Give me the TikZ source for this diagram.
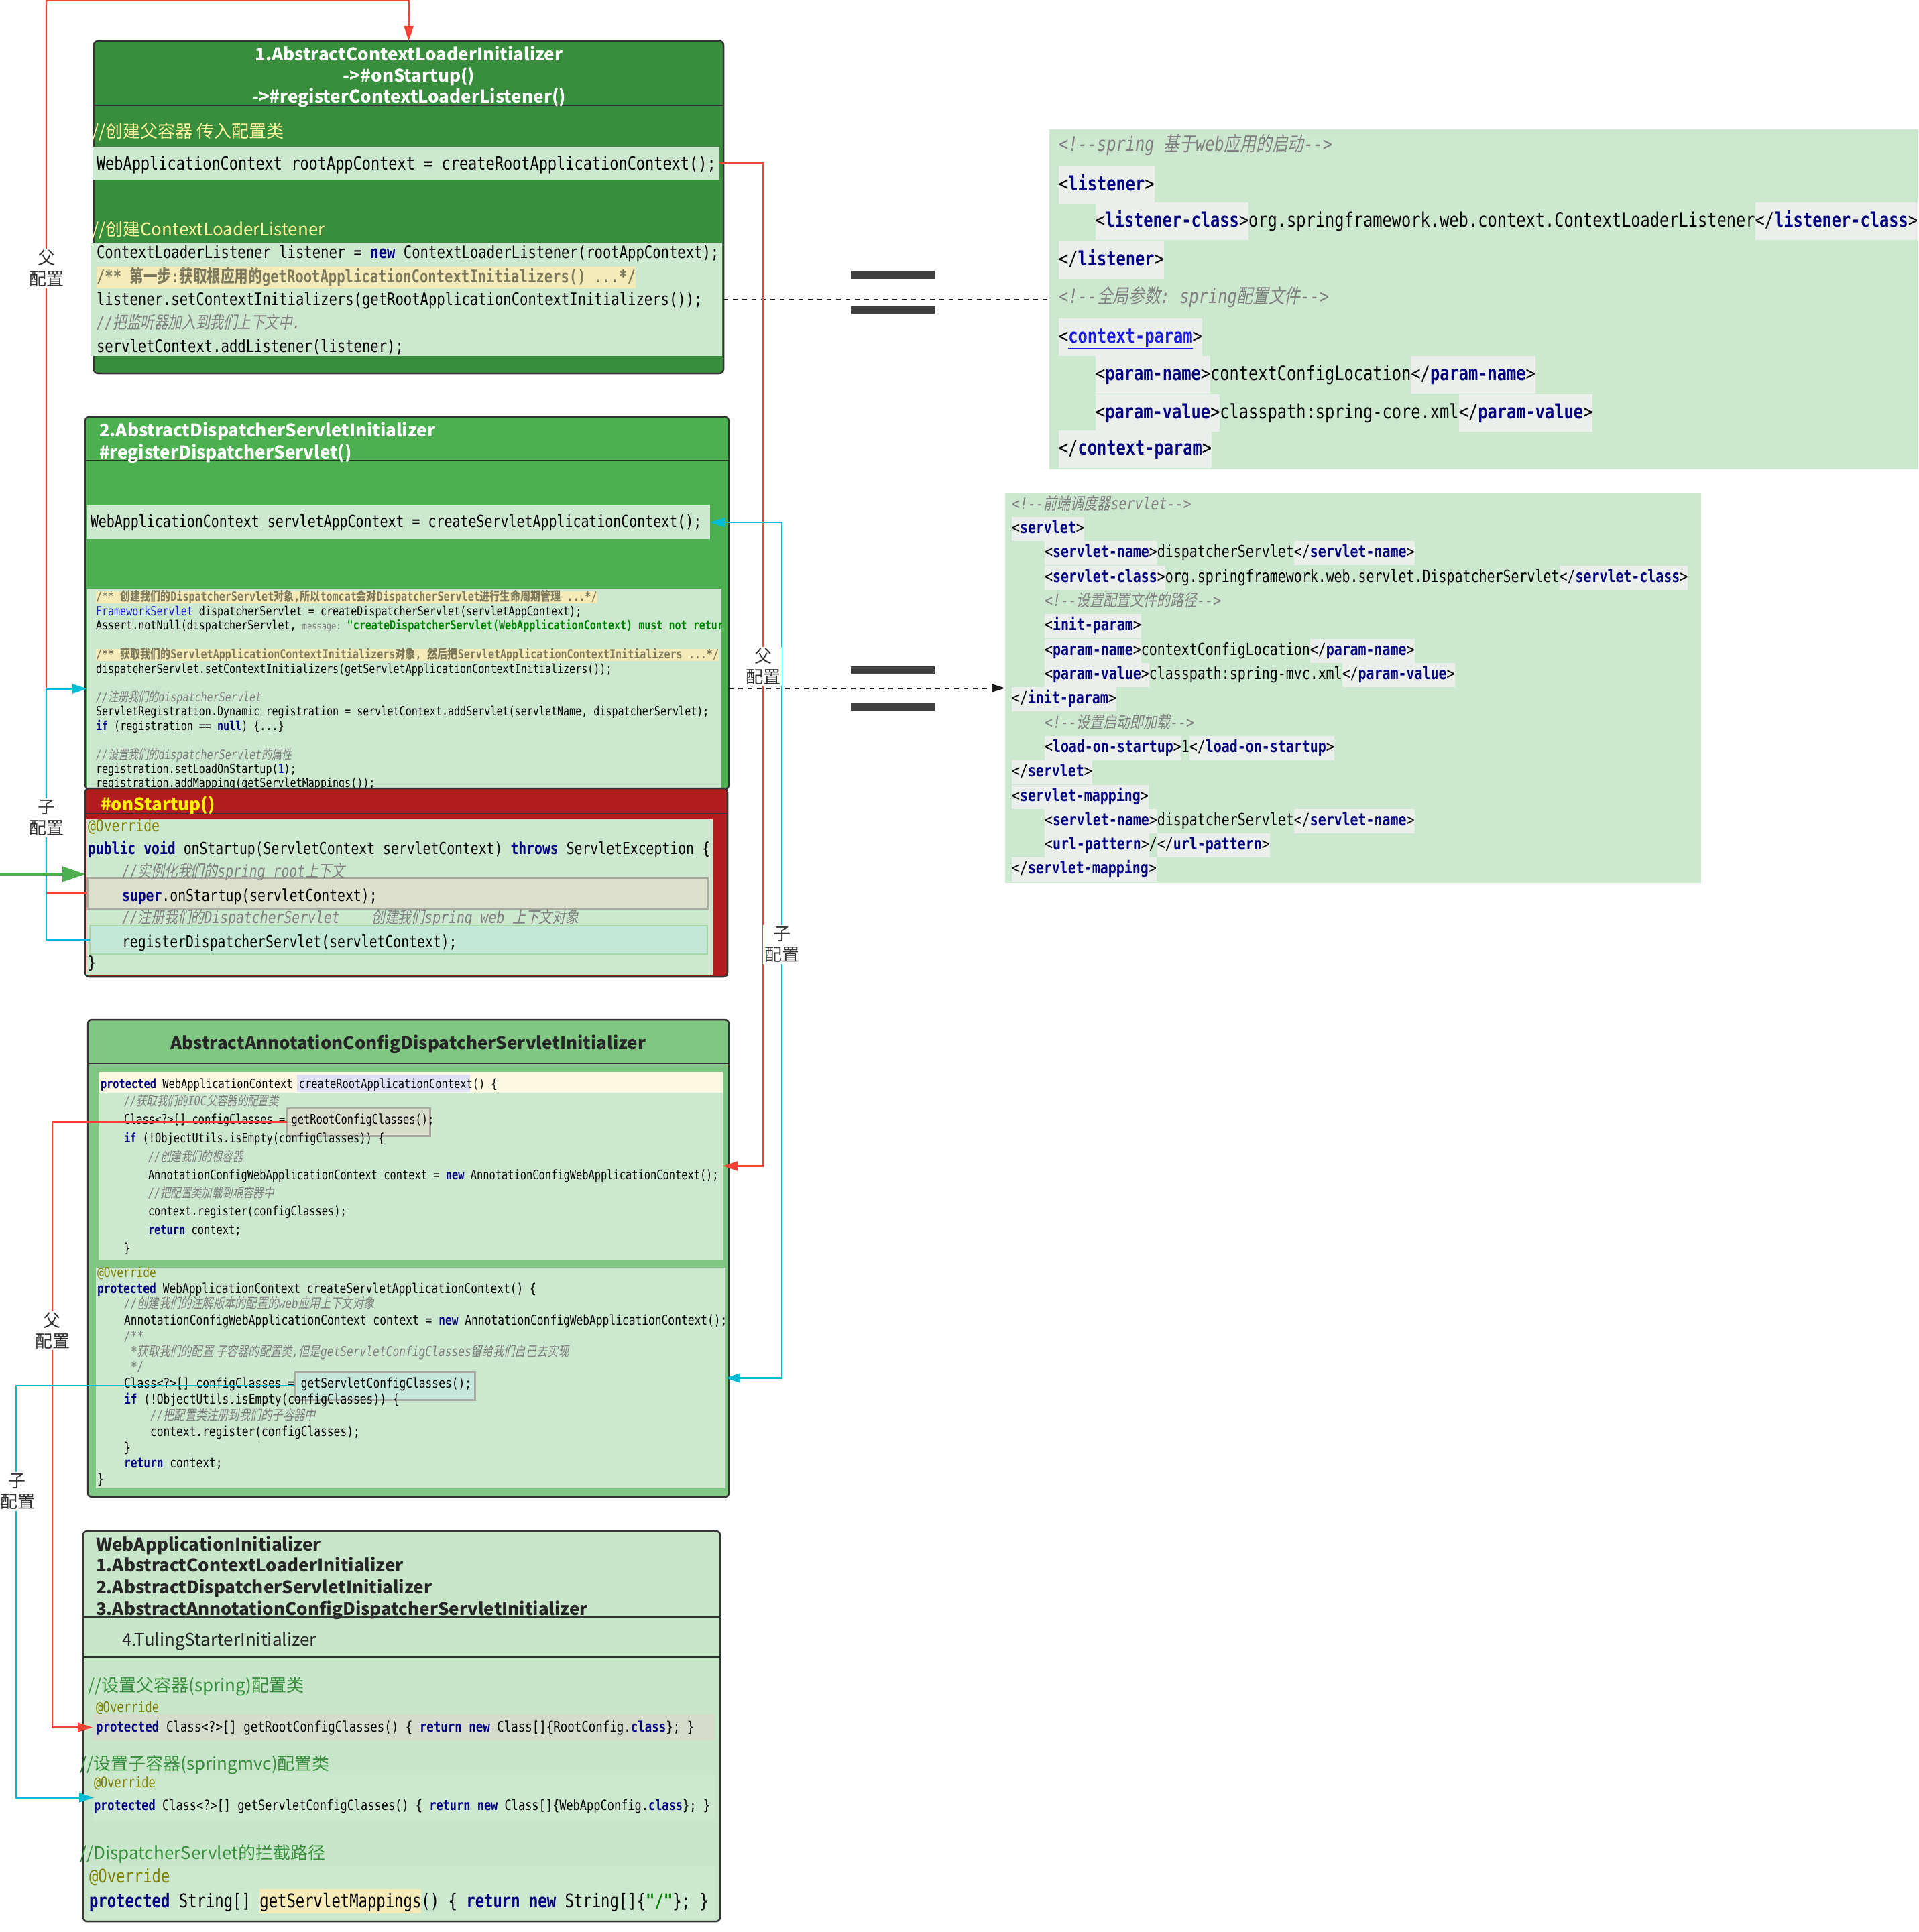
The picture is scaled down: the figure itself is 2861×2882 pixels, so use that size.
\documentclass[tikz,border=0pt]{standalone}
\usepackage{fontspec}
\usepackage{graphicx}
\setmonofont{DejaVu Sans Mono}[FakeStretch=0.8]
\newfontfamily\ys{Noto Sans CJK SC}
\newfontfamily\cjkm{Noto Sans CJK SC}[FakeStretch=0.8]
\newfontfamily\cjkmi{Noto Sans CJK SC}[FakeStretch=0.8,FakeSlant=0.2]
\usetikzlibrary{arrows.meta,fit}
\definecolor{codebg}{HTML}{CCE8CF}
\definecolor{dkgreen}{HTML}{388E3C}
\definecolor{mdgreen}{HTML}{4CAF50}
\definecolor{ltgreen}{HTML}{81C784}
\definecolor{palegreen}{HTML}{C8E6C9}
\definecolor{redbox}{HTML}{B21C1C}
\definecolor{boxline}{HTML}{333333}
\definecolor{kw}{HTML}{000080}
\definecolor{cmt}{HTML}{808080}
\definecolor{ann}{HTML}{808000}
\definecolor{strc}{HTML}{008000}
\definecolor{hly}{HTML}{F5EBB9}
\definecolor{hlc}{HTML}{7D7A5E}
\definecolor{tagbg}{HTML}{EBEFEB}
\definecolor{link}{HTML}{1A1AE6}
\definecolor{redl}{HTML}{F44336}
\definecolor{cyanl}{HTML}{00BCD4}
\definecolor{paley}{HTML}{FFF59D}
\definecolor{cmtgreen}{HTML}{388E3C}
\definecolor{eqc}{HTML}{404040}
\definecolor{lblc}{HTML}{333333}
\definecolor{superbg}{HTML}{DCDFCC}
\definecolor{superln}{HTML}{A9AAA0}
\definecolor{regbg}{HTML}{C3E8D8}
\definecolor{regln}{HTML}{A5D6A7}
\definecolor{cfgbg}{HTML}{D8DCCB}
\definecolor{scfgbg}{HTML}{C5E6DA}
\definecolor{lavender}{HTML}{E0E0F5}
\definecolor{paleyel}{HTML}{FCF9E3}
\definecolor{rowfour}{HTML}{D6DCCC}
\newcommand\fsz[1]{\fontsize{#1}{#1}\selectfont}
\newcommand\kw[1]{{\color{kw}\bfseries #1}}
\newcommand\cm[1]{{\color{cmt}\itshape #1}}
\newcommand\zh[1]{{\cjkm #1}}
\newcommand\zhi[1]{{\cjkmi #1}}
\newcommand\an[1]{{\color{ann}#1}}
\newcommand\stc[1]{{\color{strc}\bfseries #1}}
\newcommand\hcm[1]{{\color{hlc}\bfseries #1}}
\newcommand\tn[1]{{\color{kw}\bfseries #1}}
\newcommand\ta[1]{{\setlength\fboxsep{0pt}\colorbox{tagbg}{\rule[-0.66em]{0pt}{1.9em}#1}}}
\newcommand\tb[1]{{\setlength\fboxsep{0pt}\colorbox{tagbg}{\rule[-0.45em]{0pt}{1.45em}#1}}}
\tikzset{
  lm/.style={anchor=west, inner sep=0pt, outer sep=0pt, font=\ttfamily\fsz{#1}, text height=0.78*#1, text depth=0.22*#1},
  ls/.style={anchor=west, inner sep=0pt, outer sep=0pt, font=\ys\fsz{#1}, text height=0.85*#1, text depth=0.15*#1},
  lb/.style={ls=#1, font=\ys\bfseries\fsz{#1}},
  area/.style={inner sep=0pt, outer sep=0pt, draw=none},
  panel/.style={area, draw=boxline, line width=2.5pt, rounded corners=6pt},
  sepl/.style={draw=boxline, line width=2pt},
  redc/.style={draw=redl, line width=2.2pt},
  cyanc/.style={draw=cyanl, line width=2.2pt},
  tipc/.style={arrows={-Triangle[length=22pt,width=14pt]}},
  tipb/.style={arrows={Triangle[length=22pt,width=14pt]-Triangle[length=22pt,width=14pt]}},
  lbl/.style={fill=white, align=center, inner sep=2pt, text=lblc, font=\ys\fontsize{26}{31}\selectfont},
  dsh/.style={draw=black!90, line width=2pt, dash pattern=on 7pt off 7pt},
}
\begin{document}
\begin{tikzpicture}[x=1pt,y=-1pt]
\useasboundingbox (0,0) rectangle (2861,2882);
% ================= box 1
\node[panel, fill=dkgreen, fit={(140,61)(1079,557)}] (box1) {};
\draw[sepl] (140,157) -- (1079,157);
\node[lb=26, anchor=center, text=white] (t1a) at (610,81) {1.AbstractContextLoaderInitializer};
\node[lb=26, anchor=center, text=white] (t1b) at (610,113) {->\#onStartup()};
\node[lb=26, anchor=center, text=white] (t1c) at (610,144) {->\#registerContextLoaderListener()};
\node[ls=26, text=paley] (c1a) at (137,196) {//创建父容器 传入配置类};
\node[area, fill=codebg, fit={(138,219)(1073,268)}] (rootrow) {};
\node[lm=27.4] (l1a) at (144,246) {WebApplicationContext rootAppContext = createRootApplicationContext();};
\node[ls=26, text=paley] (c1b) at (137,342) {//创建ContextLoaderListener};
\node[area, fill=codebg, fit={(135,362)(1077,531)}] (lisblock) {};
\node[lm=25.7] (l1b) at (144,378) {ContextLoaderListener listener = \kw{new} ContextLoaderListener(rootAppContext);};
\node[lm=25.7, fill=hly, inner ysep=3pt] (l1c) at (144,414) {\hcm{/** \zh{第一步}:\zh{获取根应用的}getRootApplicationContextInitializers() ...*/}};
\node[lm=25.7] (setinit) at (144,448) {listener.setContextInitializers(getRootApplicationContextInitializers());};
\node[lm=25.7] (l1e) at (144,483) {\cm{//\zhi{把监听器加入到我们上下文中}.}};
\node[lm=25.7] (l1f) at (144,518) {servletContext.addListener(listener);};
% ================= box 2
\node[panel, fill=mdgreen, fit={(127,622)(1087,1177)}] (box2) {};
\draw[sepl] (127,687) -- (1087,687);
\node[lb=26, text=white] (t2a) at (148,642) {2.AbstractDispatcherServletInitializer};
\node[lb=26, text=white] (t2b) at (148,675) {\#registerDispatcherServlet()};
\node[area, fill=codebg, fit={(130,754)(1059,804)}] (servletrow) {};
\node[lm=24.9] (l2a) at (135,780) {WebApplicationContext servletAppContext = createServletApplicationContext();};
\node[area, fill=codebg, fit={(130,878)(1076,1177)}] (disblock) {};
\begin{scope}
\clip (130,878) rectangle (1076,1177);
\node[lm=18.8, fill=hly] (d1) at (143,891) {\hcm{/** \zh{创建我们的}DispatcherServlet\zh{对象},\zh{所以}tomcat\zh{会对}DispatcherServlet\zh{进行生命周期管理} ...*/}};
\node[lm=18.8] (d2) at (143,913) {{\color{link}\underline{FrameworkServlet}} dispatcherServlet = createDispatcherServlet(servletAppContext);};
\node[lm=18.8] (d3) at (143,934) {Assert.notNull(dispatcherServlet, {\color{cmt}\fsz{15}message:} \stc{"createDispatcherServlet(WebApplicationContext) must not return null"});};
\node[lm=18.8, fill=hly] (d4) at (143,977) {\hcm{/** \zh{获取我们的}ServletApplicationContextInitializers\zh{对象}, \zh{然后把}ServletApplicationContextInitializers ...*/}};
\node[lm=18.8] (d5) at (143,999) {dispatcherServlet.setContextInitializers(getServletApplicationContextInitializers());};
\node[lm=18.8] (d6) at (143,1041) {\cm{//\zhi{注册我们的}dispatcherServlet}};
\node[lm=18.8] (d7) at (143,1062) {ServletRegistration.Dynamic registration = servletContext.addServlet(servletName, dispatcherServlet);};
\node[lm=18.8] (d8) at (143,1084) {\kw{if} (registration == \kw{null}) \{...\}};
\node[lm=18.8] (d9) at (143,1127) {\cm{//\zhi{设置我们的}dispatcherServlet\zhi{的属性}}};
\node[lm=18.8] (d10) at (143,1148) {registration.setLoadOnStartup({\color{blue!80!black}1});};
\node[lm=18.8] (d11) at (143,1169) {registration.addMapping(getServletMappings());};
\end{scope}
% ================= red onStartup box
\node[panel, fill=redbox, fit={(127,1176)(1085,1457)}] (red) {};
\draw[sepl] (127,1214) -- (1085,1214);
\node[lb=26, text=yellow] (t3) at (150,1200) {\#onStartup()};
\node[area, fill=codebg, fit={(129,1221)(1063,1454)}] (startblock) {};
\node[lm=24.7] (s1) at (131,1234) {\an{@Override}};
\node[lm=24.7] (s2) at (131,1268) {\kw{public} \kw{void} onStartup(ServletContext servletContext) \kw{throws} ServletException \{};
\node[area, fill=superbg, draw=superln, line width=3pt, fit={(130,1309)(1055,1355)}] (superrow) {};
\node[lm=24.7] (s3) at (182,1302) {\cm{//\zhi{实例化我们的}spring root\zhi{上下文}}};
\node[lm=24.7] (s4) at (182,1338) {\kw{super}.onStartup(servletContext);};
\node[lm=24.7] (s5) at (182,1371) {\cm{//\zhi{注册我们的}DispatcherServlet\ \ \ \ \zhi{创建我们}spring web \zhi{上下文对象}}};
\node[area, fill=regbg, draw=regln, line width=2pt, fit={(134,1381)(1055,1423)}] (regrow) {};
\node[lm=24.7] (s6) at (182,1407) {registerDispatcherServlet(servletContext);};
\node[lm=24.7] (s7) at (131,1438) {\}};
% ================= box 3
\node[panel, fill=ltgreen, fit={(131,1521)(1087,2233)}] (box3) {};
\draw[sepl] (131,1586) -- (1087,1586);
\node[lb=26, anchor=center, text=black!85] (t4) at (609,1556) {AbstractAnnotationConfigDispatcherServletInitializer};
\node[area, fill=codebg, fit={(148,1599)(1078,1880)}] (rootcode) {};
\fill[paleyel] (148,1599) rectangle (1078,1630);
\fill[lavender] (443,1603) rectangle (701,1629);
\node[area, fill=cfgbg, draw=superln, line width=3pt, fit={(428,1653)(641,1694)}] (rootcfg) {};
\node[lm=19.2] (a1) at (150,1618) {\kw{protected} WebApplicationContext createRootApplicationContext() \{};
\node[lm=19.2] (a2) at (185,1644) {\cm{//\zhi{获取我们的}IOC\zhi{父容器的配置类}}};
\node[lm=19.2] (a3) at (185,1671) {Class<?>[] configClasses = getRootConfigClasses();};
\node[lm=19.2] (a4) at (185,1699) {\kw{if} (!ObjectUtils.isEmpty(configClasses)) \{};
\node[lm=19.2] (a5) at (221,1727) {\cm{//\zhi{创建我们的根容器}}};
\node[lm=19.2] (a6) at (221,1754) {AnnotationConfigWebApplicationContext context = \kw{new} AnnotationConfigWebApplicationContext();};
\node[lm=19.2] (a7) at (221,1781) {\cm{//\zhi{把配置类加载到根容器中}}};
\node[lm=19.2] (a8) at (221,1808) {context.register(configClasses);};
\node[lm=19.2] (a9) at (221,1836) {\kw{return} context;};
\node[lm=19.2] (a10) at (185,1863) {\}};
\node[area, fill=codebg, fit={(143,1891)(1082,2220)}] (servletcode) {};
\node[area, fill=scfgbg, draw=superln, line width=3pt, fit={(440,2046)(708,2088)}] (servletcfg) {};
\node[lm=20.3] (b1) at (145,1900) {\an{@Override}};
\node[lm=20.3] (b2) at (145,1924) {\kw{protected} WebApplicationContext createServletApplicationContext() \{};
\node[lm=20.3] (b3) at (185,1946) {\cm{//\zhi{创建我们的注解版本的配置的}web\zhi{应用上下文对象}}};
\node[lm=20.3] (b4) at (185,1971) {AnnotationConfigWebApplicationContext context = \kw{new} AnnotationConfigWebApplicationContext();};
\node[lm=20.3] (b5) at (185,1995) {\cm{/**}};
\node[lm=20.3] (b6) at (195,2018) {\cm{*\zhi{获取我们的配置 子容器的配置类},\zhi{但是}getServletConfigClasses\zhi{留给我们自己去实现}}};
\node[lm=20.3] (b7) at (195,2040) {\cm{*/}};
\node[lm=20.3] (b8) at (185,2065) {Class<?>[] configClasses = getServletConfigClasses();};
\node[lm=20.3] (b9) at (185,2089) {\kw{if} (!ObjectUtils.isEmpty(configClasses)) \{};
\node[lm=20.3] (b10) at (224,2113) {\cm{//\zhi{把配置类注册到我们的子容器中}}};
\node[lm=20.3] (b11) at (224,2137) {context.register(configClasses);};
\node[lm=20.3] (b12) at (185,2161) {\}};
\node[lm=20.3] (b13) at (185,2184) {\kw{return} context;};
\node[lm=20.3] (b14) at (145,2208) {\}};
% ================= box 4
\node[panel, fill=palegreen, fit={(124,2284)(1074,2866)}] (box4) {};
\node[lb=26, text=black!85] (w1) at (143,2304) {WebApplicationInitializer};
\node[lb=26, text=black!85] (w2) at (143,2335) {1.AbstractContextLoaderInitializer};
\node[lb=26, text=black!85] (w3) at (143,2368) {2.AbstractDispatcherServletInitializer};
\node[lb=26, text=black!85] (w4) at (143,2400) {3.AbstractAnnotationConfigDispatcherServletInitializer};
\draw[sepl] (124,2412) -- (1074,2412);
\node[ls=26, text=black!85] (w5) at (182,2446) {4.TulingStarterInitializer};
\draw[sepl] (124,2472) -- (1074,2472);
\node[ls=26, text=cmtgreen] (c5a) at (131,2514) {//设置父容器(spring)配置类};
\node[lm=21.8] (o5a) at (143,2548) {\an{@Override}};
\node[area, fill=rowfour, fit={(138,2557)(1066,2596)}] (rootcfg4) {};
\node[lm=21.8] (r5a) at (143,2577) {\kw{protected} Class<?>[] getRootConfigClasses() \{ \kw{return} \kw{new} Class[]\{RootConfig.\kw{class}\}; \}};
\node[ls=26, text=cmtgreen] (c5b) at (119,2631) {//设置子容器(springmvc)配置类};
\node[area, fill=codebg, fit={(140,2647)(1066,2716)}] (servletcfg4) {};
\node[lm=21.2] (o5b) at (140,2661) {\an{@Override}};
\node[lm=21.2] (r5b) at (140,2695) {\kw{protected} Class<?>[] getServletConfigClasses() \{ \kw{return} \kw{new} Class[]\{WebAppConfig.\kw{class}\}; \}};
\node[ls=26, text=cmtgreen] (c5c) at (119,2764) {//DispatcherServlet的拦截路径};
\node[area, fill=codebg, fit={(133,2784)(1066,2862)}] (mapcode) {};
\node[lm=27.8] (o5c) at (133,2801) {\an{@Override}};
\node[lm=27.8] (r5c) at (133,2838) {\kw{protected} String[] {\setlength\fboxsep{0pt}\colorbox{hly}{\rule[-0.3em]{0pt}{1.3em}getServletMappings}}() \{ \kw{return} \kw{new} String[]\{\stc{"/"}\}; \}};
% ================= xml 1
\node[area, fill=codebg, fit={(1565,193)(2861,700)}] (xml1) {};
\begin{scope}
\clip (1565,193) rectangle (2861,700);
\node[lm=29.6] (x1) at (1579,217) {\cm{<!--spring \zhi{基于}web\zhi{应用的启动}-->}};
\node[lm=29.6] (x2) at (1579,276) {\ta{<\tn{listener}>}};
\node[lm=29.6] (x3) at (1634,330) {\ta{<\tn{listener-class}>}org.springframework.web.context.ContextLoaderListener\ta{</\tn{listener-class}>}};
\node[lm=29.6] (x4) at (1579,388) {\ta{</\tn{listener}>}};
\node[lm=29.6] (x5) at (1579,444) {\cm{<!--\zhi{全局参数}: spring\zhi{配置文件}-->}};
\node[lm=29.6] (x6) at (1579,503) {\ta{<{\color{link}\bfseries\underline{context-param}}>}};
\node[lm=29.6] (x7) at (1634,559) {\ta{<\tn{param-name}>}contextConfigLocation\ta{</\tn{param-name}>}};
\node[lm=29.6] (x8) at (1634,616) {\ta{<\tn{param-value}>}classpath:spring-core.xml\ta{</\tn{param-value}>}};
\node[lm=29.6] (x9) at (1579,670) {\ta{</\tn{context-param}>}};
\end{scope}
% ================= xml 2
\node[area, fill=codebg, fit={(1499,736)(2537,1317)}] (xml2) {};
\node[lm=24.9] (y1) at (1509,754) {\cm{<!--\zhi{前端调度器}servlet-->}};
\node[lm=24.9] (y2) at (1509,789) {\tb{<\tn{servlet}>}};
\node[lm=24.9] (y3) at (1558,825) {\tb{<\tn{servlet-name}>}dispatcherServlet\tb{</\tn{servlet-name}>}};
\node[lm=24.9] (y4) at (1558,862) {\tb{<\tn{servlet-class}>}org.springframework.web.servlet.DispatcherServlet\tb{</\tn{servlet-class}>}};
\node[lm=24.9] (y5) at (1558,898) {\cm{<!--\zhi{设置配置文件的路径}-->}};
\node[lm=24.9] (y6) at (1558,934) {\tb{<\tn{init-param}>}};
\node[lm=24.9] (y7) at (1558,971) {\tb{<\tn{param-name}>}contextConfigLocation\tb{</\tn{param-name}>}};
\node[lm=24.9] (y8) at (1558,1007) {\tb{<\tn{param-value}>}classpath:spring-mvc.xml\tb{</\tn{param-value}>}};
\node[lm=24.9] (y9) at (1509,1043) {\tb{</\tn{init-param}>}};
\node[lm=24.9] (y10) at (1558,1080) {\cm{<!--\zhi{设置启动即加载}-->}};
\node[lm=24.9] (y11) at (1558,1116) {\tb{<\tn{load-on-startup}>}1\tb{</\tn{load-on-startup}>}};
\node[lm=24.9] (y12) at (1509,1152) {\tb{</\tn{servlet}>}};
\node[lm=24.9] (y13) at (1509,1189) {\tb{<\tn{servlet-mapping}>}};
\node[lm=24.9] (y14) at (1558,1225) {\tb{<\tn{servlet-name}>}dispatcherServlet\tb{</\tn{servlet-name}>}};
\node[lm=24.9] (y15) at (1558,1261) {\tb{<\tn{url-pattern}>}/\tb{</\tn{url-pattern}>}};
\node[lm=24.9] (y16) at (1509,1297) {\tb{</\tn{servlet-mapping}>}};
% ================= equals signs
\fill[eqc] (1269,404) rectangle (1394,416);
\fill[eqc] (1269,457) rectangle (1394,469);
\fill[eqc] (1269,994) rectangle (1394,1006);
\fill[eqc] (1269,1048) rectangle (1394,1060);
% ================= dashed links
\draw[dsh] (box1.east |- xml1.west) -- (xml1.west);
\draw[dsh, arrows={-Triangle[length=20pt,width=12pt]}] (box2.east |- xml2.west) -- (xml2.west);
% ================= connectors
\draw[redc, tipc] (superrow.west) -- (69,1332) |- (610,1) -- (box1.north);
\draw[cyanc, tipc] (regrow.west) -- (69,1402) |- (disblock.west);
\draw[redc, tipc] (rootrow.east) -- (1138,243.5) |- (rootcode.east);
\draw[cyanc, tipb] (servletrow.east) -- (1166,779) |- (servletcode.east);
\draw[redc, tipc] (rootcfg.west) -- (78,1673.5) |- (rootcfg4.west);
\draw[cyanc, tipc] (servletcfg.west) -- (24,2067) |- (servletcfg4.west);
\coordinate (gstart) at (0,1304);
\draw[draw=mdgreen, line width=4pt, arrows={-Triangle[length=34pt,width=22pt]}] (gstart) -- (red.west |- gstart);
% ================= labels
\node[lbl] (lb1) at (69,400) {父\\配置};
\node[lbl] (lb2) at (69,1220) {子\\配置};
\node[lbl] (lb3) at (1138,994) {父\\配置};
\node[lbl] (lb4) at (1166,1409) {子\\配置};
\node[lbl] (lb5) at (78,1985) {父\\配置};
\node[lbl] (lb6) at (26,2225) {子\\配置};
\end{tikzpicture}
\end{document}
